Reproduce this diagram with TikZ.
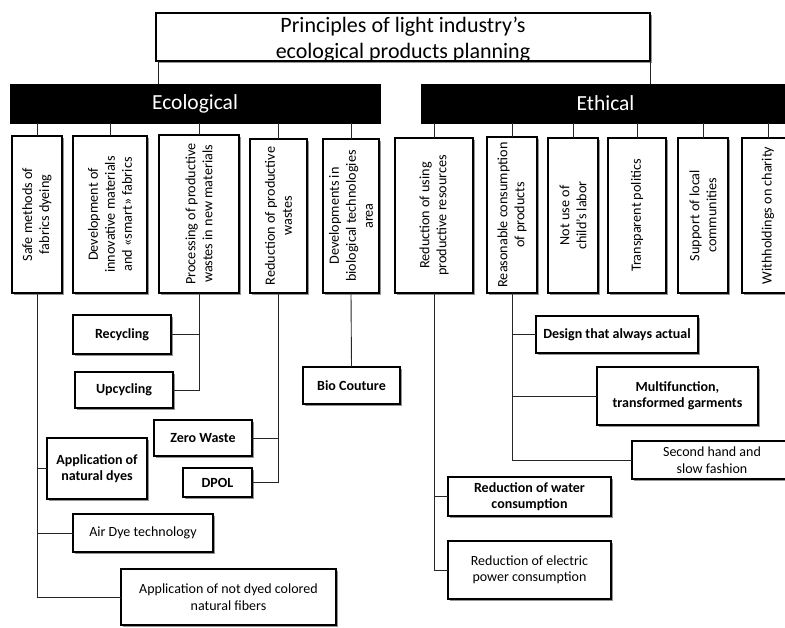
\documentclass[tikz,border=0pt]{standalone}
\usepackage{fontspec}
\setmainfont{Carlito}
\usetikzlibrary{shadows}
\tikzset{
  box/.style={draw=black, line width=1.2pt, fill=white, inner sep=0pt, outer sep=0pt,
    drop shadow={shadow xshift=1.6pt, shadow yshift=-1.6pt, fill=black!60, opacity=0.7}},
  bar/.style={fill=black, draw=black, inner sep=0pt, outer sep=0pt, text=white,
    font=\fontsize{21}{25}\selectfont},
  rot/.style={rotate=90, align=center, inner sep=0pt, font=\fontsize{14.2}{17}\selectfont},
  txt/.style={align=center, inner sep=0pt, font=\fontsize{14}{16.5}\selectfont},
  btxt/.style={txt, font=\fontsize{14}{16.5}\selectfont\bfseries},
  conn/.style={draw=black!85, line width=0.9pt},
}
\newcommand\bx[6]{\node[#6, minimum width={#4-#2}, minimum height={#5-#3}] (#1) at ({(#2+#4)/2},{(#3+#5)/2}) {};}
\begin{document}
\begin{tikzpicture}[x=1pt, y=-1pt]
\useasboundingbox (0,0) rectangle (785,628);
% title
\bx{title}{156}{13}{650}{61}{box}
\node[align=center, inner sep=0pt, font=\fontsize{22}{26}\selectfont] (titlet) at ([yshift=-3pt]title.center) {Principles of light industry's\\ecological products planning};
% bars
\bx{eco}{10}{84}{380}{123}{bar}
\node[text=white, inner sep=0pt, font=\fontsize{21.5}{25}\selectfont] (ecot) at (eco) {Ecological};
\bx{eth}{421}{84}{790}{123}{bar}
\node[text=white, inner sep=0pt, font=\fontsize{21.5}{25}\selectfont] (etht) at (eth) {Ethical};
\coordinate (tl) at ([xshift=2pt]title.south west);
\draw[conn] (tl) -- (tl |- eco.north);
\draw[conn] (title.south east) -- (title.south east |- eth.north);
% second level
\bx{s1}{12}{136}{62}{293}{box}
\bx{s2}{73}{136}{147}{293}{box}
\bx{s3}{159}{135}{239}{293}{box}
\bx{s4}{250}{139}{307}{293}{box}
\bx{s5}{323}{139}{379}{293}{box}
\bx{s6}{395}{138}{473}{293}{box}
\bx{s7}{487}{137}{537}{293}{box}
\bx{s8}{548}{138}{598}{293}{box}
\bx{s9}{608}{138}{666}{293}{box}
\bx{s10}{678}{138}{728}{293}{box}
\bx{s11}{742}{138}{794}{293}{box}
\node[rot] (s1t) at (s1) {Safe methods of\\fabrics dyeing};
\node[rot] (s2t) at (s2) {Development of\\innovative materials\\and «smart» fabrics};
\node[rot] (s3t) at (s3) {Processing of productive\\wastes in new materials};
\node[rot] (s4t) at (s4) {Reduction of productive\\wastes};
\node[rot] (s5t) at (s5) {Developments in\\biological technologies\\area};
\node[rot] (s6t) at (s6) {Reduction of using\\productive resources};
\node[rot] (s7t) at (s7) {Reasonable consumption\\of products};
\node[rot] (s8t) at (s8) {Not use of\\child's labor};
\node[rot] (s9t) at (s9) {Transparent politics};
\node[rot] (s10t) at (s10) {Support of local\\communities};
\node[rot] (s11t) at (s11) {Withholdings on charity};
\foreach \n in {s1,s2,s3,s4,s5}{\draw[conn] (\n.north) -- (\n.north |- eco.south);}
\foreach \n in {s6,s7,s8,s9,s10,s11}{\draw[conn] (\n.north) -- (\n.north |- eth.south);}
% third level boxes
\bx{nd}{47}{438}{147}{499}{box}
\node[btxt] (ndt) at (nd) {Application of\\natural dyes};
\bx{air}{73}{514}{213}{552}{box}
\node[txt] (airt) at (air) {Air Dye technology};
\bx{nf}{121}{569}{336}{625}{box}
\node[txt] (nft) at (nf) {Application of not dyed colored\\natural fibers};
\bx{rec}{73}{315}{171}{354}{box}
\node[btxt] (rect) at (rec) {Recycling};
\bx{up}{75}{372}{173}{408}{box}
\node[btxt] (upt) at (up) {Upcycling};
\bx{zw}{154}{420}{252}{456}{box}
\node[btxt] (zwt) at (zw) {Zero Waste};
\bx{dpol}{183}{468}{252}{497}{box}
\node[btxt] (dpolt) at (dpol) {DPOL};
\bx{bio}{303}{367}{400}{404}{box}
\node[btxt] (biot) at (bio) {Bio Couture};
\bx{wat}{448}{477}{611}{516}{box}
\node[btxt] (watt) at (wat) {Reduction of water\\consumption};
\bx{ele}{448}{541}{611}{599}{box}
\node[txt] (elet) at (ele) {Reduction of electric\\power consumption};
\bx{des}{536}{316}{698}{353}{box}
\node[btxt] (dest) at (des) {Design that always actual};
\bx{mul}{597}{367}{758}{425}{box}
\node[btxt] (mult) at (mul) {Multifunction,\\transformed garments};
\bx{sec}{632}{441}{792}{479}{box}
\node[txt] (sect) at (sec) {Second hand and\\slow fashion};
% lower connectors
\foreach \c in {nd,air,nf}{\draw[conn] (s1.south) |- (\c.west);}
\foreach \c in {rec,up}{\draw[conn] (s3.south) |- (\c.east);}
\foreach \c in {zw,dpol}{\draw[conn] (s4.south) |- (\c.east);}
\draw[conn] (s5.south) -- (bio.north);
\foreach \c in {wat,ele}{\draw[conn] (s6.south) |- (\c.west);}
\foreach \c in {des,mul,sec}{\draw[conn] (s7.south) |- (\c.west);}
\end{tikzpicture}
\end{document}
